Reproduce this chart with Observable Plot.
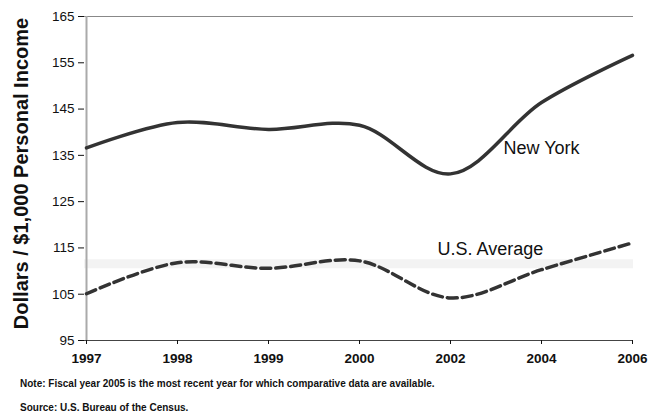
<!DOCTYPE html>
<html>
<head>
<meta charset="utf-8">
<script src="https://cdn.jsdelivr.net/npm/d3@7"></script>
<script src="https://cdn.jsdelivr.net/npm/@observablehq/plot@0.6"></script>
<style>
  html, body { margin: 0; padding: 0; background: #fff; }
  body { width: 649px; height: 419px; overflow: hidden; font-family: "Liberation Sans", Arial, sans-serif; }
  #chart svg { display: block; }
  .note { font-family: "Liberation Sans", Arial, sans-serif; font-weight: bold; font-size: 10px; line-height: 12px; color: #111; margin-left: 20px; }
  #n1 { margin-top: 7px; }
  #n2 { margin-top: 12px; }
</style>
</head>
<body>
<div id="chart"></div>
<div class="note" id="n1">Note: Fiscal year 2005 is the most recent year for which comparative data are available.</div>
<div class="note" id="n2">Source: U.S. Bureau of the Census.</div>
<script>
const years = ["1997", "1998", "1999", "2000", "2002", "2004", "2006"];
const newYork = [136.6, 142.1, 140.6, 141.5, 131.0, 146.4, 156.6];
const usAverage = [105.1, 111.8, 110.6, 112.2, 104.2, 110.3, 116.1];
const yTicks = [95, 105, 115, 125, 135, 145, 155, 165];
const seriesLabels = [
  {x: "2002", y: 136.6, text: "New York"},
  {x: "2002", y: 114.8, text: "U.S. Average"}
];
const yTitle = "Dollars / $1,000 Personal Income";

const ny = years.map((y, i) => ({year: y, value: newYork[i]}));
const us = years.map((y, i) => ({year: y, value: usAverage[i]}));

const chart = Plot.plot({
  width: 649,
  height: 371,
  marginLeft: 84,
  marginRight: 16,
  marginTop: 16,
  marginBottom: 31,
  style: {fontFamily: "'Liberation Sans', Arial, sans-serif", background: "#fff", color: "#111"},
  x: {type: "point", domain: years, padding: 0, label: null},
  y: {domain: [95, 165], label: null},
  marks: [
    Plot.ruleY([111.6], {stroke: "#f3f3f3", strokeWidth: 9}),
    Plot.ruleY([165], {stroke: "#888", strokeWidth: 1.2}),
    Plot.ruleX([years[0]], {stroke: "#aaa", strokeWidth: 2}),
    Plot.axisY({ticks: yTicks, tickSize: 6, tickPadding: 4, fontSize: 13.5, tickFormat: d => d, stroke: "#111", label: null, style: {letterSpacing: "1.6px"}}),
    Plot.text([yTitle], {frameAnchor: "left", textAnchor: "middle", rotate: -90, dx: -63, dy: -5, fontSize: 20, fontWeight: "bold", fill: "#111"}),
    Plot.ruleY([95], {stroke: "#444", strokeWidth: 1.2}),
    Plot.axisX({tickSize: 4, tickPadding: 9, fontSize: 13.5, fontWeight: "bold", stroke: "#111", label: null}),
    Plot.line(ny, {x: "year", y: "value", curve: "catmull-rom", stroke: "#333", strokeWidth: 3.5}),
    Plot.line(us, {x: "year", y: "value", curve: "catmull-rom", stroke: "#333", strokeWidth: 3.5, strokeDasharray: "10,5"}),
    Plot.text(seriesLabels.slice(0, 1), {x: "x", y: "y", text: "text", textAnchor: "start", dx: 53, fontSize: 18, fill: "#111"}),
    Plot.text(seriesLabels.slice(1), {x: "x", y: "y", text: "text", textAnchor: "start", dx: -13, fontSize: 18, fill: "#111"})
  ]
});
document.getElementById("chart").appendChild(chart);
</script>
</body>
</html>
